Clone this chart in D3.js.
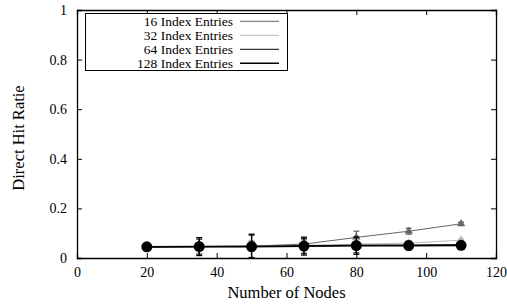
<!DOCTYPE html>
<html>
<head>
<meta charset="utf-8">
<script src="https://d3js.org/d3.v7.min.js"></script>
<style>
  body { margin: 0; background: #fff; }
</style>
</head>
<body>
<div id="chart"><svg></svg></div>
<script>
const nodes = [20, 35, 50, 65, 80, 95, 110];
const seriesNames = ["16 Index Entries", "32 Index Entries", "64 Index Entries", "128 Index Entries"];
const hit16 = [0.045, 0.046, 0.048, 0.056, 0.083, 0.108, 0.138];
const hit32 = [0.045, 0.046, 0.047, 0.051, 0.056, 0.060, 0.072];
const hit64 = [0.045, 0.046, 0.047, 0.049, 0.051, 0.052, 0.054];
const hit128 = [0.045, 0.046, 0.046, 0.048, 0.050, 0.050, 0.051];
const err16 = [0.004, 0.01, 0.02, 0.02, 0.025, 0.012, 0.006];
const err32 = [0.004, 0.01, 0.02, 0.02, 0.02, 0.01, 0.006];
const err64 = [0.004, 0.03, 0.045, 0.03, 0.03, 0.015, 0.006];
const err128 = [0.004, 0.036, 0.05, 0.036, 0.035, 0.016, 0.006];
const xTicks = [0, 20, 40, 60, 80, 100, 120];
const yTicks = [0, 0.2, 0.4, 0.6, 0.8, 1];

const width = 507, height = 306;
const margin = {left: 77, right: 11, top: 10, bottom: 48};
const serif = "'Liberation Serif', 'Times New Roman', serif";

const svg = d3.select("svg").attr("width", width).attr("height", height)
  .attr("font-family", serif);

const x = d3.scaleLinear().domain([0, 120]).range([margin.left, width - margin.right]);
const y = d3.scaleLinear().domain([0, 1]).range([height - margin.bottom, margin.top]);

// series styles
const series = [
  {name: seriesNames[0], vals: hit16, err: err16, color: "#666", lw: 1, marker: "triangle"},
  {name: seriesNames[1], vals: hit32, err: err32, color: "#bbb", lw: 1, marker: "diamond"},
  {name: seriesNames[2], vals: hit64, err: err64, color: "#333", lw: 1.2, marker: "square"},
  {name: seriesNames[3], vals: hit128, err: err128, color: "#000", lw: 1.8, marker: "circle"}
];

// axes with inward ticks on all sides
const tk = 5;
svg.append("g").attr("transform", `translate(0,${y(0)})`)
  .call(d3.axisBottom(x).tickValues(xTicks).tickSize(-tk).tickPadding(9).tickFormat(d3.format("d")));
svg.append("g").attr("transform", `translate(0,${y(1)})`)
  .call(d3.axisTop(x).tickValues(xTicks).tickSize(-tk).tickFormat(""));
svg.append("g").attr("transform", `translate(${x(0)},0)`)
  .call(d3.axisLeft(y).tickValues(yTicks).tickSize(-tk).tickPadding(10).tickFormat(d => d === 0 || d === 1 ? d : d3.format(".1f")(d)));
svg.append("g").attr("transform", `translate(${x(120)},0)`)
  .call(d3.axisRight(y).tickValues(yTicks).tickSize(-tk).tickFormat(""));

svg.selectAll("g").attr("font-family", serif);
svg.selectAll(".domain").attr("stroke", "#000").attr("stroke-width", 1.3);
svg.selectAll(".tick line").attr("stroke", "#000");
svg.selectAll(".tick text").attr("font-size", 14).attr("fill", "#000");

// axis titles
svg.append("text").attr("x", (x(0) + x(120)) / 2).attr("y", 298)
  .attr("text-anchor", "middle").attr("font-size", 16.5).text("Number of Nodes");
svg.append("text").attr("transform", `translate(24,138) rotate(-90)`)
  .attr("text-anchor", "middle").attr("font-size", 16.5).text("Direct Hit Ratie");

const line = d3.line().x((d, i) => x(nodes[i])).y(d => y(d));

series.forEach(s => {
  const g = svg.append("g");
  g.append("path").datum(s.vals).attr("d", line)
    .attr("fill", "none").attr("stroke", s.color).attr("stroke-width", s.lw);
  // error bars
  s.vals.forEach((v, i) => {
    const cx = x(nodes[i]);
    const lo = y(Math.max(0, v - s.err[i])), hi = y(v + s.err[i]);
    g.append("line").attr("x1", cx).attr("x2", cx).attr("y1", lo).attr("y2", hi)
      .attr("stroke", s.color).attr("stroke-width", 1.3);
    [lo, hi].forEach(yy => g.append("line").attr("x1", cx - 3).attr("x2", cx + 3)
      .attr("y1", yy).attr("y2", yy).attr("stroke", s.color).attr("stroke-width", 1.3));
  });
  // markers
  const sym = {triangle: d3.symbolTriangle, diamond: d3.symbolDiamond,
               square: d3.symbolSquare, circle: d3.symbolCircle}[s.marker];
  const size = s.marker === "circle" ? 95 : 30;
  g.selectAll("path.m").data(s.vals).enter().append("path").attr("class", "m")
    .attr("transform", (d, i) => `translate(${x(nodes[i])},${y(d)})`)
    .attr("d", d3.symbol().type(sym).size(size))
    .attr("fill", s.color);
});

// legend
const lg = svg.append("g");
lg.append("rect").attr("x", 85.5).attr("y", 13.5).attr("width", 202).attr("height", 57)
  .attr("fill", "#fff").attr("stroke", "#000").attr("stroke-width", 1);
series.forEach((s, i) => {
  const ly = 21.3 + i * 14;
  lg.append("text").attr("x", 233).attr("y", ly + 4.3).attr("text-anchor", "end")
    .attr("font-size", 13.5).text(s.name);
  lg.append("line").attr("x1", 240).attr("x2", 279).attr("y1", ly).attr("y2", ly)
    .attr("stroke", s.color).attr("stroke-width", Math.min(s.lw, 1.4));
});
</script>
</body>
</html>
